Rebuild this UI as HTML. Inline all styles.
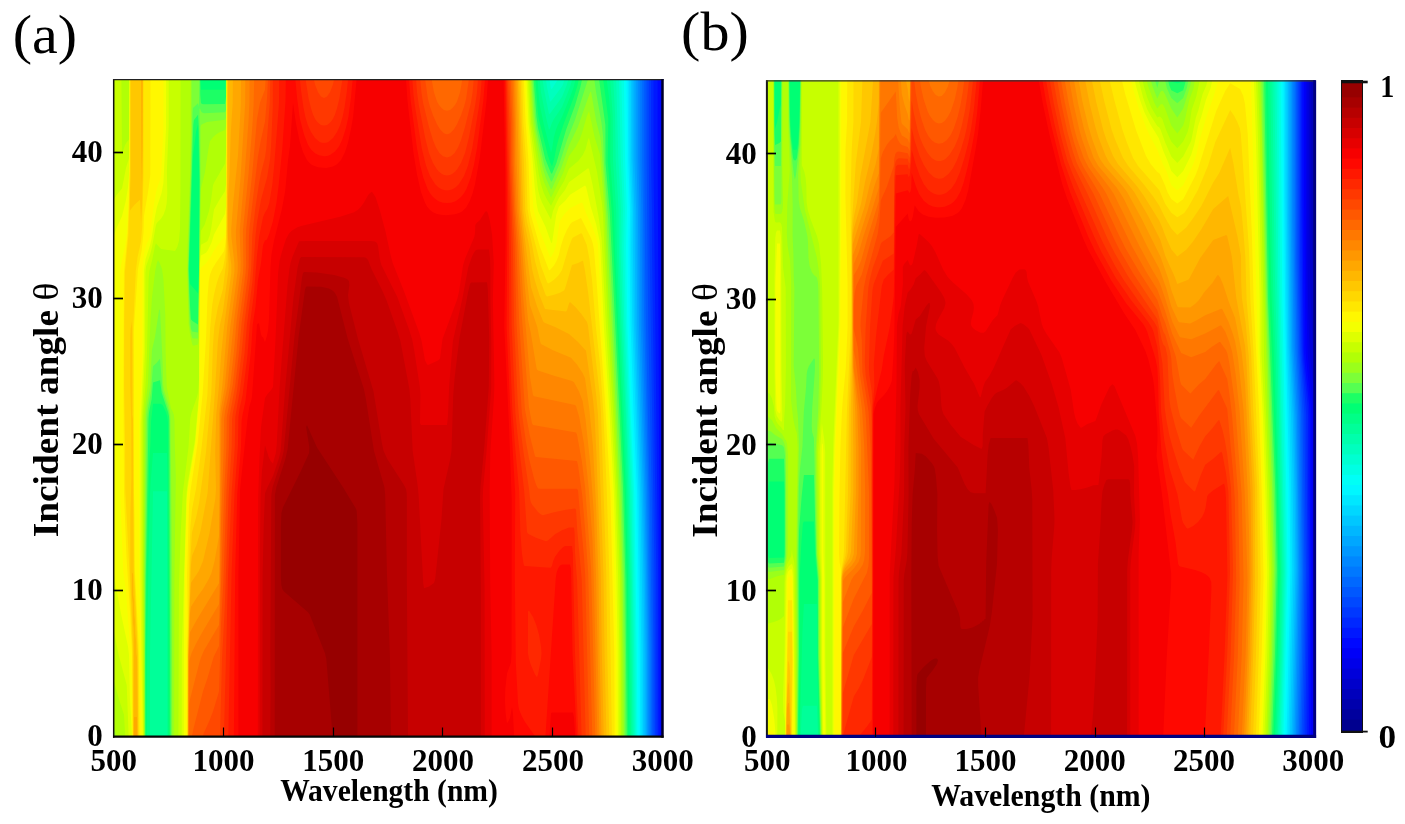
<!DOCTYPE html>
<html><head><meta charset="utf-8"><title>Figure</title>
<style>html,body{margin:0;padding:0;background:#fff}svg{display:block}text{fill:#000}</style>
</head><body>
<svg width="1405" height="824" viewBox="0 0 1405 824">
<rect width="1405" height="824" fill="#fff"/>
<text transform="translate(12.8,53) scale(1.055,1)" font-size="55" font-family="'Liberation Serif', serif">(a)</text>
<text transform="translate(681.1,50) scale(1.055,1)" font-size="55" font-family="'Liberation Serif', serif">(b)</text>
<g fill-rule="evenodd">
<rect x="113" y="79" width="550" height="658" fill="#0008ff"/>
<path fill="#0018ff" d="M113,79 657.6,79 657.7,161 659.7,573 659.7,737 113,737Z"/>
<path fill="#0028ff" d="M113,79 653.5,79 653.5,159 658.1,573 658.2,737 113,737Z"/>
<path fill="#0038ff" d="M113,79 651,79 651,159 651.9,209 652,251 656.3,573 656.6,737 113,737Z"/>
<path fill="#0048ff" d="M113,79 648.8,79 648.8,159 649.7,253 654.5,573 655,737 113,737Z"/>
<path fill="#0058ff" d="M113,79 646.6,79 646.6,159 648.3,329 651.8,499 653.4,651 653.5,737 113,737Z"/>
<path fill="#0068ff" d="M113,79 644.3,79 644.3,159 645,250.8 646,329 650.2,513 651.9,651 651.9,737 113,737Z"/>
<path fill="#0078ff" d="M113,79 642.2,79 642.2,161 643.1,211 644.1,317 648.6,497 650.7,653 650.7,737 113,737Z"/>
<path fill="#0087ff" d="M113,79 640.2,79 640.3,159 641.4,211 642.4,323 647.1,489 649.5,655 649.5,737 113,737Z"/>
<path fill="#0097ff" d="M113,79 638.3,79 638.3,159 639.7,211 640.7,323 645.7,489 647.3,575 648.3,655 648.3,737 113,737Z"/>
<path fill="#00a7ff" d="M113,79 636.3,79 636.4,159 637.9,211 639,325 644.3,489 646.1,575 647.1,655 647.1,737 113,737Z"/>
<path fill="#00b7ff" d="M113,79 634.4,79 634.4,159 636.2,211 637.3,325 642.9,489 644.8,575 645.8,655 645.9,737 113,737Z"/>
<path fill="#00c7ff" d="M113,79 632.5,79 632.6,159 634.5,211 635.5,325 641.5,491 643.5,577 644.5,655 644.6,737 113,737Z"/>
<path fill="#00d7ff" d="M113,79 630.9,79 631.2,159 633,211 632.9,247 633.9,325 640.1,491 641.8,573 643,655 643.1,737 113,737Z"/>
<path fill="#00e7ff" d="M113,79 629.2,79 629.7,161 631.6,211 631.2,247 632.2,323 638.7,495 641.4,651 641.7,737 113,737Z"/>
<path fill="#00f7ff" d="M113,79 627.6,79 628.3,161 630.1,211 629.6,247 630.5,323 633.4,407 637.2,495 639.8,653 640.2,737 113,737Z"/>
<path fill="#00fff6" d="M113,79 625.9,79 626.7,123 626.8,161 628.6,209 627.9,247 628.8,323 631.8,407 635.7,493 638.3,655 638.7,737 113,737Z"/>
<path fill="#00ffe3" d="M113,79 623.9,79 625.1,161 626.9,209 626.1,247 627.3,325 630.5,411 634.3,495 636.8,655 637.4,737 113,737Z"/>
<path fill="#00ffd1" d="M113,79 621.4,79 622.9,159 624.9,209 624.2,247 625.9,325 632.9,495 635.5,653 636.2,737 113,737Z"/>
<path fill="#00ffbe" d="M113,79 549.3,79 551,88.9 552,88.8 558.1,79 619,79 620.7,157 622.9,209 622.3,247 624.3,321 631.5,495 634.1,649 635,737 113,737Z"/>
<path fill="#00ffac" d="M113,79 545.9,79 547,87 550,101.4 551,101.3 562,86.4 563,84.6 564.6,79 616.2,79 618.4,161 620.9,209 620.4,247 622.7,317 630,495 631.9,579 633.8,737 113,737Z"/>
<path fill="#00ff99" d="M113,79 542.4,79 544.3,91 549,113.9 550,113.7 562,97 566.8,85 568.5,79 613.2,79 615,113.4 615.7,161 618.5,209 618.9,257 621.5,327 625.6,413 628.6,493 630.6,577 632.5,737 113,737Z"/>
<path fill="#00ff87" d="M113,79 539.7,79 541.1,93 545.9,117 549,129.8 550,128.6 551.9,123 554,119 562,107.1 570,87 572.4,79 610.1,79 612.7,115 613,161 616.2,211 616.9,253 627.2,491 629.3,577 631.1,737 167.4,737 167,491.3 153,491.3 150,655 149.9,737 113,737Z"/>
<path fill="#00ff74" d="M113,79 537.5,79 539,99.5 540,106.3 543.9,125 551,152.6 552,149.4 553.9,137 556,129.5 557.8,125 562,117.1 570,97.3 573.7,87 575.7,79 606.6,79 609,97.5 610.5,117 610.3,161 613.9,213 615.1,253 625.9,491 628,579 629.6,737 168.4,737 167.8,495 167,453 153,453 150.6,483 149.9,497 148.4,567 147.2,647 147,737 113,737Z"/>
<path fill="#1cff65" d="M113,79 200.6,79 201,89.8 225,89.8 225.5,79 535.3,79 537.9,113 538.8,119 547.8,155 550.4,163 552,166.2 554.2,159 556.5,147 558.6,139 564,123 573.9,97 577.6,85 578.8,79 603.1,79 608.3,119 607.7,161 611.7,211 624.5,489 626.7,579 628.2,737 169.5,737 169.4,655 168,423 167.4,417 166,412.3 163,405.8 162,404.5 160,403.7 153,403.7 151.1,421 150.4,445 149,465.4 146.6,575 145.7,655 145.7,737 113,737ZM198,124.8 196.2,131 193,155.5 189.1,269 190,283.9 198,293.2 198.3,279 199,271 199.3,181Z"/>
<path fill="#55ff52" d="M113,79 200,79 200.3,95 201,102.9 202,103.9 204,104.2 225,104 226,97.1 226.1,79 533.6,79 536.5,117 538,127.7 545.3,159 551,173.2 552,173.8 556.4,163 566,130.1 575,105.6 580.4,87 582.1,79 599,79 605.4,125 605.5,163 609.8,213 623,487 625.4,579 626.8,737 170.5,737 169.2,421 169,416.6 168,412.1 161.7,393 160,380.2 153,382.6 151.7,399 149,412.4 148.5,419 145.8,577 145.2,655 145.3,737 113,737ZM198,114.7 194,119.9 193.3,125 188.6,269 190,305.3 191,319.2 192.4,321 198,324.6 199.1,271 199.7,179 198.8,127Z"/>
<path fill="#7cff38" d="M113,79 199.3,79 199,106.7 198,103.3 193,108 192.6,113 191.2,175 188.2,269 189.8,315 191,328.6 192,331.4 198,332.4 199.2,277 200.2,181 199.5,109 200,108.2 201,111.2 202,112.4 204,113.3 225,112.3 226,109.8 226.2,79 532.5,79 535,117 536.6,129 544,163.7 546,170 551,181.4 552,181.2 559,165 567,140 575.3,119 588.1,79 594.3,79 595.9,91 601.5,123 603,136.1 604.1,165 608.2,219 621.4,485 624.1,579 625,655 625.3,737 171.4,737 171.4,651 169.8,419 169,410.9 162.6,391 160,358.8 156.5,363 153,366.2 150.9,393 148,409.1 147.1,419 145.1,577 144.9,737 113,737Z"/>
<path fill="#9aff1b" d="M113,79 191.5,79 191.6,135 187.8,271 189.4,323 191,333.6 192,337.4 193,338.5 198,338.4 198.4,331 200.6,185 200.5,127 201,125.2 202,124.3 207,121.9 225,119.8 226,117.4 226.3,79 531.3,79 533.6,117 535.4,131 543,168.9 546,178.3 551,189.6 552,188.6 561,168.6 569,145.4 577.8,127 590,92.5 591,91.5 596.2,121 600,135.9 601,141.7 606.4,217 620.3,497 622.7,579 623.6,655 623.9,737 172.3,737 172.1,575 170.5,419 170.2,413 169,405.8 164,389.8 163.2,385 162.5,361 160,309.4 159,310.3 155,337 152,350 150,388.1 146.7,407 145.8,417 144.4,575 144.5,737 113,737Z"/>
<path fill="#b1ff06" d="M113,79 190.6,79 190.7,127 190.1,175 187.5,249 187.3,275 188.7,325 190.5,337 192,343.4 193,345.7 198,344.5 198.6,339 201,188.3 204.8,173 209,145.2 210,141.2 213,137.2 215.3,135 219,132.5 225,130 226,125.8 226.4,79 530.2,79 532.7,123 539.3,163 541.4,173 544,182.2 551,197.7 563,173.3 569,155.9 575.6,147 579.8,139 582,133 586.6,117 589,111.1 594.6,137 600,154.6 604.6,213 609.4,319 614.6,411 618.8,499 621.4,581 622.3,655 622.4,737 174.2,737 174.4,577 175.8,477 174.7,441 174.5,421 173.9,415 172.5,411 171,408.6 166.7,387 165.6,351 165.3,315 163.4,279 162,269 159.7,263 158,260.3 157,262.4 155.2,271 152,297.4 150.5,321 148,383 145.2,407 144.4,417 143.7,575 144.1,737 116.8,737 113,723.8Z"/>
<path fill="#c7ff00" d="M180.6,79 180.5,187 180,229 179,240.7 177.3,247 175,250.9 161,248.9 156,243.4 155,246 152.4,259 149.4,271 148.6,279 147,353 145.5,385 143.5,409 143,421 143,571 143.8,737 125.2,737 124,714.8 118.3,697 113,678.1 113,79 121.4,79 122,154.4 125,145.1 127,141.7 129,139.5 129.2,79ZM226.5,79 529.1,79 531.2,123 538.9,175 541,184.6 543.8,193 546.7,199 551,205.7 559,189.6 564.1,181 569,168.8 578.2,161 582.8,155 585.6,149 588,139.8 589,137.8 597,171.7 601.9,203 603,215.1 607.6,319 613,410.4 616.7,485 620,578.1 620.9,653 621,737 178.4,737 178.9,587 180.6,535 182.8,493 188.5,447 190.2,419 191.4,413 196.9,397 198,392.4 199,379.5 199.7,267 201,230.8 204.5,225 209,211 211,200.4 213,185.2 214,182.7 225,163.7 226,151.7Z"/>
<path fill="#deff00" d="M168.7,79 168.7,125 166.9,171 167.3,193 166.7,203 165.6,209 163.4,215 160.8,219 157,222.8 156,224.8 152,247.2 150,255.1 146,266.5 145.4,273 145.1,351 141.7,423 141.8,575 143.4,737 128.7,737 126.7,685 118.7,655 113,626.8 113,200.7 117,194.5 122,188.6 126,167.9 129,158.3 129.4,79ZM226.7,79 527.8,79 529.9,123 538,189.5 539.9,197 542,202.5 551,219.8 553,211 555.5,205 559,197.8 565,190.1 569,182.2 588,168.2 589,168.9 592.6,185 598.6,217 601.6,239 606,327 611.4,415 615.4,491 618.1,575 619.4,655 619.4,737 181.7,737 181.8,653 186.4,495 187.7,483 195,439.4 199,393 200,257 201,244.7 207,241.5 208,240.1 209.8,235 211.1,229 214,209.4 219,200.4 225,191.2 226,183.9Z"/>
<path fill="#f4ff00" d="M166.1,79 166,129 163.4,183 161.6,193 156.9,207 154.9,217 151.5,239 150,245.5 145.6,259 143.9,271 143.7,351 140.5,425 140.5,579 141.4,659 142.8,737 132,737 129.9,697 129,655 128,646.4 121.3,615 115.6,585 114.1,575 113,563.2 113,239 116.1,229 122,216.2 125.8,201 128,187.3 129,175.1 129.6,79ZM226.8,79 526.5,79 528.5,123 532.5,159 534.7,187 536.5,203 538,211.1 545.6,227 551,242.2 552,243.3 556.2,215 559,206.5 565,201 570,194.8 585,185.5 586.1,187 590.8,207 596,223.7 599.6,241 600.5,251 603.9,327 609.4,411 614,495 616.3,575 617.7,649 617.9,737 183.8,737 183.8,657 184.5,573 186.7,499 187.8,487 195.2,443 199.3,395 200,263.2 201,255.5 206,252.7 208,250.1 211.4,243 214,234.5 225,214.1 226,206.8Z"/>
<path fill="#fff700" d="M163.5,79 163.4,129 161.2,175 160,180.1 157,188.6 155.5,195 153.3,209 150.3,235 149,239.6 147,243.2 145,249.1 143.5,257 142.5,267 142.2,353 141,391 139.5,409 139.2,421 139.3,577 141.3,737 132.3,737 132,690.6 130.5,653 126,591.3 123.2,571 120.1,491 120.1,273 121.1,265 125,246.2 127,231.9 128,212.3 129.4,169 129.8,79ZM226.9,79 525.2,79 527,121 530.5,159 533.3,207 534.9,215 539,229 550,256.8 551,257.2 554,251.8 555.6,247 556.9,241 559,225 560,221 564,214.6 570,208.3 581,202.7 582,202.6 583,203.9 586,213 592,226 596,236.7 598,244.5 601.8,327 607.6,411 612.3,493 616.2,651 616.3,737 185.8,737 185.8,653 184.9,575 187,503.1 188,490.4 195.6,445 199.6,399 200,271.8 201,267.7 206,263.3 211,256.2 214,250.4 224,236.8 225,234.8 226,228.1Z"/>
<path fill="#ffe700" d="M150.5,79 150.3,175 148.2,191 144,216.1 143.5,233 141.6,251 138,269.1 134,327 133.9,489 134.6,517 134.9,571 138.7,645 139.7,737 132.6,737 132,653.4 130,611.9 126.5,557 124,493 123.5,385 123.9,273 127.7,233 129.2,193 129.8,165 130,79ZM227.1,79 523.8,79 525.5,121 528.5,161 530,210.4 531,215.4 540,246.9 549,270.2 550,270.1 554,265.4 556.5,261 558.8,255 561,245.6 563.8,237 567,229.7 570,224.4 572,222.3 581,218 591,237.9 592.7,243 593.9,249 596.3,277 605,401.2 610.4,493 614.3,655 614.6,737 187.1,737 187.2,647 187.7,621 187.1,575 189,505 190.4,491 197.7,443 202.7,393 206,338.4 207.5,297 208.8,281 209.9,275 212.2,269 215.8,263 224,251.3 225,246.5 226,237.6Z"/>
<path fill="#ffd700" d="M130.3,79 143.6,79 143.5,173 142.2,227 141,241.4 137.6,257 135.8,271 133,331 133.5,493 134.2,569 138.2,655 138.7,737 133,737 132.5,651 129,562.5 125.2,489 125.1,445 124.1,387 124.2,323 125,271 128.4,235 130.1,167ZM227.3,79 522.2,79 523.4,123 526.2,163 527.5,209 530,223.5 541,266.1 547,282 548,283.4 550,282.5 554,279.8 558.8,275 562,269.9 568.8,247 572,238.8 573,237.6 581,233.3 582,233.7 586.8,245 589.4,259 592,279.8 595.9,327 600,364.1 603.5,415 606.8,491 609.3,573 611.9,737 187.4,737 187.6,655 189.6,547 190.4,527 192,509.5 196,489 201.4,449 207.4,395 210.1,329 212.2,305 213.9,295 216.8,283 219.5,275 223,268 225,257.2 225.8,249 226.6,225Z"/>
<path fill="#ffc700" d="M130.7,79 143,79 142.7,177 142,206.6 141,223.4 140,199.8 134.3,205 130,210.6 130,193.3 130.7,177ZM227.6,79 520.7,79 521.8,123 523.9,163 525.3,211 526.9,221 531.7,243 535,261 539.8,279 545.7,295 547,296.4 554,294.8 560,292.7 564,290.6 565,288.7 572,265.1 578,263 582,260.9 583,260.8 585,271 588.2,293 600,396.7 600.9,411 606.3,575 607.3,655 609.3,737 187.8,737 188.1,649 190.3,561 191.9,533 196.2,517 199.1,503 205.9,453 211.3,393 213,345 214.3,327 217.9,307 223,288.9 226.4,261 226.8,247ZM132,321.2 132.3,415 133,419 133.6,571 137.6,655 138.2,737 133.3,737 133.3,653 130.3,573 130.4,515 131.4,477 131.2,421 130.3,387 130.3,337 130.6,329Z"/>
<path fill="#ffb700" d="M141.1,79 142.7,79 142.6,143 142,186.4 141.3,159ZM227.8,79 519.1,79 523.3,211 525,225 529.3,247 532,268.9 535,281 539.4,295 545,309 566,311.5 567,310.2 569,303.4 570,302 575.4,307 581,313.6 587,322 588,325.7 596.4,397 598,415 603.5,575 604.6,655 606.5,737 188,737 188.2,653 191,564.5 192,556.1 196.5,545 200.5,531 207.6,493 215,391 217.9,341 219.9,325 223,311.1 228.4,271 228.6,265 227.3,231ZM132,573.3 133,573.3 133.2,595 134,600 134.2,615 135,620.1 135.1,633 136,640.2 136.2,653 137,657.4 137.7,737 133.6,737 133.9,635 133.6,627 133,624 132.8,603 132,597.4Z"/>
<path fill="#ffa700" d="M141.6,79 142.3,79 142,163.1ZM232.9,79 517.8,79 521.6,209 523.4,227 531,287.2 537,306.2 543,321.1 544,322.6 555.1,327 569,334 578,341.9 586,350.8 593,399.3 594.5,415 596.4,453 600.7,571 601.9,655 603.8,737 188.2,737 188.5,653 190,602.1 191,582.7 198.9,571 203,561.1 209.5,533 215.3,499 216,489 215.2,453 216.2,415 218.7,389 221.3,353 224,327 231.3,273 231.3,265 228,239 228,197.5 229.5,175 230.9,131 232.7,103ZM134,717 137,717 137.1,737 133.9,737Z"/>
<path fill="#ff9700" d="M241,79 516.4,79 520,209 523.7,245 526,272.6 529.9,305 537.3,327 540,341.1 541,344.1 553,350.3 571,357.7 577,364.6 582.6,373 585,378.3 589.3,409 593,446.7 596.2,509 598.4,575 599.6,655 601.5,737 188.4,737 188.6,657 190,613.1 191,606.7 197,597.3 203,589.1 208.8,579 211.5,573 214.6,561 219,536.1 219.4,491 219.2,413 222.4,385 227.2,327 234.5,271 234.4,263 231.4,237 231.2,229 233.2,203 238,155 240.8,105Z"/>
<path fill="#ff8700" d="M245.3,79 515.1,79 516.6,161 518.7,213 521.7,243 524.9,287 528,319.6 530.8,333 536.3,367 537,369.6 538,370.5 554,375.8 572,380.9 574,382.3 579,391.4 582.6,401 585.5,419 590.4,465 593.8,513 596,575 599.4,737 188.5,737 188.8,657 190,632.3 197,619.6 219,583.2 220,497 220.3,415 221,407.9 224.8,387 230.3,327 237.7,271 237.8,263 236,239 235.9,231 240.6,177 245.2,103Z"/>
<path fill="#ff7800" d="M249.6,79 513.7,79 514.8,121 515,163 516.8,209 519.9,243 523,295 530,377.3 533,395.1 534,396.3 575,405 576,406.1 579.2,417 584,443.8 588.8,489 592.5,541 593.7,577 597.4,737 188.7,737 189,661.8 191.6,653 196.4,643 203,631 219,604.2 219.9,571 221.5,419 222.5,411 227.3,387 234.2,319 240.5,271 240.7,263 239.7,231 244.7,173 248.4,123 249.4,103Z"/>
<path fill="#ff6800" d="M254.2,79 512.3,79 513.6,123 513.7,163 515.3,209 518.2,245 521.7,315 528.9,407 532,423.3 533,425.1 576,432.4 577,434.4 581.8,461 585.1,487 591,566.9 595.3,737 188.9,737 189,703.2 199.3,663 201.2,657 203.7,651 219,625.1 220.4,581 221,523.1 223.8,447 224.1,419 225.1,411 228.6,395 230.2,385 234,351 236.6,321 243,273 243.4,265 242.9,231 248.6,173 252.3,127 253.6,105Z"/>
<path fill="#ff5800" d="M265.6,79 431.6,79 434,92.5 437,101.4 439,105 442,108.5 444,109.9 447,110.7 450,109.9 452,108.5 455,105 457,101.4 460,92.5 462.4,79 510.7,79 512.3,123 512.4,163 514,207 516.4,245 519.1,321 524.9,409 529.7,435 535,456.3 536,457.1 577,460.9 578,465 582.2,495 585.1,529 588.2,573 592.3,737 191.8,737 193.4,729 203,691.3 207.2,679 213.6,657 219,646.1 224.1,495 226.4,447 226.8,417 232.7,385 236.6,351 239,323 245.6,273 246.1,265 245.8,239 246.2,229 252.3,173 257,119 260,102.5 265,89.5Z"/>
<path fill="#ff4800" d="M268,79 425.1,79 427.9,99 430,106.8 433,115.2 437,124.3 440,129.3 443,132.6 445,133.8 447,134.2 449,133.8 451,132.6 454,129.3 457,124.3 461,115.2 464,106.8 466.1,99 468.9,79 509.2,79 510.9,123 511.1,165 512.8,211 514.6,245 516.5,323 521.8,413 526,442.2 529.1,459 534,478.3 536.2,485 538,488.5 540,488.8 577,488.8 578,490.6 584,557 585.2,575 589.2,737 202.7,737 203.8,733 209.3,721 213,711.6 219,691.5 221,625.3 223.4,581 226.5,491 228.9,447 229.4,417 235,387 239.2,351 241.6,323 247.8,277 248.7,267 248.9,237 249.6,227 257.9,157 260.7,141 265,121.6 267.1,97Z"/>
<path fill="#ff3800" d="M270.2,79 313.8,79 315.2,85 318,92.2 321,96.5 324,97.9 327,96.5 330,92.2 332.8,85 334.2,79 420.2,79 421.5,93 423.1,103 429,127 433,140.2 436,147.5 439.4,153 443,156.3 447,157.4 451,156.3 454.6,153 458,147.5 461,140.2 465,127 470.9,103 472.5,93 473.8,79 507.7,79 509.5,125 510,172.2 512.8,245 514.1,325 517.8,403 519.2,419 523.6,453 529,489 530,498.5 531,502.5 532.4,505 538,511.9 541,514.5 543,515.2 554,512.2 566,509.8 575,508.6 576,509.4 577.3,531 581.7,579 585.7,737 220,737 222,659 224.7,609 228.6,497 231.7,447 232.1,419 232.8,413 235.7,399 237.5,387 241.6,353 244.1,325 250,280.7 251.2,267 252.3,235 255.2,209 259,183.6 261,172.9 265,157.5 266.2,149 269.8,103Z"/>
<path fill="#ff2800" d="M272.9,79 305.5,79 308.7,99 311,108.3 313.2,115 315.1,119 318,122.8 321,124.9 324,125.6 327,124.9 330,122.8 332.9,119 334.8,115 337,108.3 339.3,99 342.5,79 416,79 417.1,93 418.8,105 425,136.9 429,153 433,162.9 437,169.5 439,171.8 442,174.1 444.1,175 447,175.5 449.9,175 452,174.1 455,171.8 457,169.5 461,162.9 465,153 469,136.9 475.2,105 476.9,93 478,79 506.7,79 510.9,245 511.6,325 515.4,413 517.4,433 524.2,491 527,532.1 528,533.8 536,537.7 546,541.2 548,540.5 555,534.3 562,530.3 569,527.4 574,527.5 574.6,533 575,553 577.1,581 581.6,737 223.9,737 228,576.8 231.7,491 234.8,447 235.3,417 240.1,389 244.6,353 246.9,325 252.5,281 255.4,237 257,222.5 261,199.7 267.2,177 270.1,159 271,147 272.8,107Z"/>
<path fill="#ff1800" d="M279.2,79 299.9,79 301.1,91 303.4,107 305.4,117 307.8,125 311,132 315,138.1 319,141.5 321,142.4 324,142.9 327,142.4 329,141.5 333,138.1 337,132 340.2,125 342.6,117 344.6,107 346.9,91 348.1,79 412.3,79 413.5,95 415.1,107 421.9,149 426,165.4 430,175.9 435,184 438,187 441,188.9 444,190 447,190.4 450,190 453,188.9 456,187 459,184 464,175.9 468,165.4 472.1,149 478.9,107 480.5,95 481.7,79 505.9,79 509,243 509.2,331 512.4,411 515,445.7 519.2,491 520.3,531 521.9,553 523.4,563 524,565.4 525,566 550,567.7 551,567.5 552,565.7 553.2,561 555,556.7 560,549.9 563,547.2 565,546.1 572,545.9 572.8,553 575,653 578.4,737 228.3,737 231.6,573 234.5,493 238,445 238.4,417 239.5,409 242.6,395 247.5,355 249.8,325 254,293 257,255.4 259.1,237 263,217.2 265,212.5 267.3,209 269.3,203 272.3,185 274.4,163 279,103ZM529,610.6 528,611.6 527.9,653 529,659 530.9,665 535,674.5 537,677.2 538,674.6 541,659 541.5,653 541.1,647 539.1,635 536.3,625 533,617Z"/>
<path fill="#ff0800" d="M285.8,79 295.3,79 297.2,99 299.9,119 304,134.6 308,144.7 311,149.4 315,153.2 319,155.3 324,156.2 327,155.9 330,154.9 335,151.6 339,146.5 342.5,139 346,127.8 348.4,117 351,97.5 352.7,79 409,79 410.7,101 416.8,147 420,164.6 423.1,177 427.6,189 430,193.2 433,197 436,199.6 439,201.4 443,202.7 447,203.1 451,202.7 455,201.4 458,199.6 461,197 464,193.2 466.4,189 470.9,177 474,164.6 477.2,147 483.3,101 485,79 504.9,79 506.4,161 507.2,241 506.6,327 510.4,411 515.2,493 514.8,577 515.8,663 518,702.9 519,709.4 522,716.4 525,722 535.6,737 233.9,737 235.2,571 237.3,493 241,447 241.6,421 242.5,415 245.5,401 251,351 252.7,325 255.5,307 258,279.9 261,263.3 263,245.2 265,240.2 266,240.3 267,239.3 269,234.6 273,221.1 276.4,203 278.9,183 282.3,149 285.5,101ZM562,564.5 570,564.5 571,568.6 572.5,653 576.8,737 545.4,737 555.7,579 556.5,573 558,568.5 560,565.5Z"/>
<path fill="#f70000" d="M356.6,79 406,79 407.5,101 413.5,153 417,174.6 421,192 425,202.8 427,206.4 430,210 433,212.2 437,213.9 441,214.8 446,215.2 455,214.3 459,213 462,211.4 466,207.8 470,200.6 472.7,193 475,184.2 479.9,157 486.5,101 488,79 503.6,79 505.3,171 505.5,243 504.3,327 509,425.4 511.7,499 511.6,653 511,662.4 507,673.5 505.3,689 505,701 505.6,713 507,723.3 508.6,721 510,717.8 512,706.9 513,713.4 514.1,737 238.4,737 238.4,577 240.1,489 247.5,419 249.3,407 251.6,399 252.1,395 257,324.6 258,323.5 259,323.2 261,334.4 262,336.7 263,337.1 265,342.2 267,335.5 268,330.2 269,319 270.5,267 271.4,255 273.9,241 281.9,209 285.2,191 288,160.3 290,145.7 293,102.8 295.9,123 299.6,141 303,151.9 307,160 309,162.5 312,165 318,167.3 326,167.9 333,166.5 337,164.3 341,160 345,151.9 347.9,143 351,129 353.1,117ZM551,713.3 552,712.4 573,712.4 574,717.6 575.2,737 549.4,737Z"/>
<path fill="#e70000" d="M372,191.8 375.5,197 380,210.7 385.4,231 390.6,255 392.7,263 404,291.2 419.3,333 421.6,341 425,360.3 427,364.3 428,365.1 437,361.1 439,359.8 440,358.4 442.5,339 457.3,299 459.1,291 463.1,265 465,258.8 474.3,237 475,233 475.3,225 476.6,223 480,220.1 485,212 486,211.3 487,211.6 488,213.4 490,221.4 492.1,235 493.8,263 492.9,299 494.4,385 494,397 490.3,453 489.7,491 490.2,581 491.6,655 491.6,737 257.8,737 258.1,499 259.4,459 261,427 265,398 267,394.8 271.9,389 273,386.9 275.4,341 278.1,273 279.5,261 282,251.4 286,239 289,233.6 292,230.5 298,227 302,225.7 340,216.7 354,212.3 358,209.7 360.8,207 364,202.6 368.2,195 370,193Z"/>
<path fill="#d70000" d="M299,241.3 307,240.9 371,240.9 375,241.4 377,243 378,245.8 379.8,259 381.4,265 397.3,297 408.9,329 412.1,339 414,349 419.9,387 420.4,395 420,423.3 421,425 447,425 447.9,417 449.2,385 452.9,341 462.3,299 468.3,267 472,256.5 474,252.6 476,250 478,249.4 489,249.4 490,258.2 490.4,269 490.4,297 491.3,343 491.2,389 486.6,451 483.1,489 482.8,499 484.6,589 484.8,737 259.7,737 259.8,555 260.6,495 262,470.6 265,445.3 268.7,457 270.6,461 273,463.4 275.8,453 276.7,445 279.6,387 287.5,285 289.4,269 290.5,263 292.4,257Z"/>
<path fill="#c70000" d="M301,257.1 364,257.3 366,257.8 368,260 371.5,269 382.5,291 386.8,301 397.4,331 400.4,341 409.4,389 410.3,399 412.7,451 417.6,485 418.6,495 423.2,583 424,588.3 429,586.4 434,583 435.2,579 441.5,519 443.5,489 450.2,459 451.5,451 453.2,395 454.7,377 459.3,339 467.9,293 470,284 471,282.4 487,282.3 487.8,289 489.2,337 488.8,387 484.3,447 480.5,487 480.1,497 480.9,589 480.9,737 262.4,737 262.6,575 263.7,525 265,493.2 267.6,487 273,475.9 279,458 280.6,451 285.1,389 293.5,297 297.7,267 299.8,259Z"/>
<path fill="#b70000" d="M304,272.1 317,272.5 334,274.9 344,277.7 347,279.1 348.9,281 349.4,285 348,295 348.9,303 358,339 373.4,391 381.9,443 383.6,451 387.3,459 404,485 406,489 406.7,493 406.9,501 406.9,585 408,737 270.2,737 270.6,689 270.3,649 271.3,495 272.6,487 281.8,459 283.7,451 294.6,335 302.1,277 303,272.9Z"/>
<path fill="#a70000" d="M307,286.4 321,286.7 328,288.2 331,289.5 333.1,291 335,293.1 337.1,297 347.8,339 363.9,389 365.9,399 374,451 384.4,487 385.2,495 387,574.8 389.9,655 391,737 274.7,737 274.9,495 276.4,487 285.4,459 287.6,449 298.6,337 305,289.6 306,286.8Z"/>
<path fill="#970000" d="M307,425.2 317,447.5 343,487.3 356,508.7 356.7,511 357.4,523 357.4,737 332.7,737 326.3,659 325,653.3 309.9,615 308,612.3 284,591.6 282.3,589 281.3,585 280.9,577 280.9,527 281.4,513 283,507.3 300.9,471 309.1,453 309.3,447 306.1,427Z"/>
<rect x="766" y="80" width="549" height="657" fill="#0000bc"/>
<path fill="#0000cb" d="M766,80 1311.2,80 1311.3,226 1313,277 1315,277 1315,737 766,737Z"/>
<path fill="#0000da" d="M766,80 1309.2,80 1309.3,222 1309.9,268 1310.7,300 1313,352.8 1315,352.8 1315,737 766,737Z"/>
<path fill="#0000e9" d="M766,80 1307.4,80 1307.4,254 1308,304.1 1309,336.5 1310.1,356 1313,383.6 1315,383.6 1315,737 766,737Z"/>
<path fill="#0000f8" d="M766,80 1305.7,80 1305.9,256 1306.6,314 1307.7,354 1312.4,404 1312.8,414 1312.8,737 766,737Z"/>
<path fill="#0008ff" d="M766,80 1304,80 1304,196 1305.5,346 1306.1,358 1310.7,404 1311.3,416 1311.7,576 1310.9,737 766,737Z"/>
<path fill="#0018ff" d="M766,80 1302.4,80 1302.4,194 1303.8,350 1305,365.5 1309.1,404 1309.7,416 1309.8,492 1310.5,576 1308.9,737 766,737Z"/>
<path fill="#0028ff" d="M766,80 1301.1,80 1301.1,196 1302.7,348 1303.4,362 1307.6,406 1308.1,418 1308.2,492 1309.1,576 1307.1,737 766,737Z"/>
<path fill="#0038ff" d="M766,80 1299.9,80 1300.1,254 1301.5,344 1302.1,360 1306.2,414 1307.6,570 1305.3,737 766,737Z"/>
<path fill="#0048ff" d="M766,80 1298.6,80 1298.9,260 1300.6,354 1304.4,414 1306,570 1305.1,654 1303.4,737 766,737Z"/>
<path fill="#0058ff" d="M766,80 1297.4,80 1297.5,258 1299.4,354 1302.6,414 1304.5,572 1303.5,654 1301.6,737 766,737Z"/>
<path fill="#0068ff" d="M766,80 1296.1,80 1296.2,258 1298,352 1301.1,414 1303.1,572 1302.1,654 1300.1,737 766,737Z"/>
<path fill="#0078ff" d="M766,80 1294.8,80 1295,260 1296.6,352 1299.7,414 1301.9,572 1300.7,654 1298.7,737 766,737Z"/>
<path fill="#0087ff" d="M766,80 1293.4,80 1293.5,226 1295,346 1298.3,414 1300.6,570 1299.3,652 1297.3,737 766,737Z"/>
<path fill="#0097ff" d="M766,80 1292.1,80 1292.1,222 1293.6,348 1296.9,414 1299.3,570 1295.9,737 766,737Z"/>
<path fill="#00a7ff" d="M766,80 1290.8,80 1290.8,222 1292.2,348 1295.6,416 1297.2,492 1298.1,570 1294.5,737 766,737Z"/>
<path fill="#00b7ff" d="M766,80 1289.3,80 1289.5,220 1291,348 1294.2,416 1295.9,492 1296.8,570 1293.1,737 766,737Z"/>
<path fill="#00c7ff" d="M766,80 1287.9,80 1288.2,216 1289.7,348 1292.8,418 1294.6,494 1295.5,570 1291.6,737 766,737Z"/>
<path fill="#00d7ff" d="M766,80 1286.5,80 1286.8,200 1288.4,346 1291,414 1292.6,478 1293.8,570 1289.9,737 766,737Z"/>
<path fill="#00e7ff" d="M766,80 1285.1,80 1285.4,196 1286.5,306 1287.3,356 1289.3,414 1291.1,488 1292.2,570 1288.3,737 766,737Z"/>
<path fill="#00f7ff" d="M766,80 1283.7,80 1284.1,196 1285.1,302 1286.1,358 1289.5,490 1290.5,570 1286.6,737 766,737Z"/>
<path fill="#00fff6" d="M766,80 1282.3,80 1283.7,300 1287.9,492 1288.8,570 1284.9,737 766,737Z"/>
<path fill="#00ffe3" d="M766,80 1280.6,80 1282.2,296 1286.3,492 1287.4,572 1283.4,737 766,737Z"/>
<path fill="#00ffd1" d="M766,80 1278.5,80 1279.2,196 1280.4,294 1284.9,492 1286.2,572 1282,737 766,737Z"/>
<path fill="#00ffbe" d="M766,80 1276.5,80 1278.2,266 1285,572 1283.1,652 1280.5,737 766,737Z"/>
<path fill="#00ffac" d="M766,80 1274.4,80 1276.4,262 1279,356 1283.8,572 1281.9,654 1279.1,737 766,737Z"/>
<path fill="#00ff99" d="M766,80 1272.4,80 1274.5,260 1275.5,302 1277.5,358 1282.5,572 1280.7,652 1277.7,737 766,737Z"/>
<path fill="#00ff87" d="M766,80 1270.3,80 1272.7,268 1273.5,302 1275.7,358 1281.1,572 1279.2,654 1276.3,737 818.1,737 816.9,705.7 802.9,705.7 801.9,709.5 800.6,737 766,737Z"/>
<path fill="#00ff74" d="M766,80 1268.1,80 1269.4,190 1271.4,294 1273.9,356 1277.9,486 1279.7,572 1277.8,654 1274.9,737 818.9,737 817.3,668 816.9,604 803.9,604 802.4,632 799.6,737 766,737Z"/>
<path fill="#1cff65" d="M766,80 774.7,80 775,128.4 777,122.6 779.4,110 781,104.3 781.1,80 789.6,80 790,114 791,132.7 793,149.5 794.9,149.9 796.9,149.5 797.9,143.3 799.1,124 800.1,80 1170.9,80 1171.3,81.5 1177.3,83.3 1183.2,81.5 1183.5,80 1266,80 1267.2,176 1269.5,296 1272,356 1276.5,486 1278.3,570 1276.4,654 1273.5,737 819.6,737 817.7,658 817.4,580 815.4,560 813.9,521.6 803.9,521.6 802.9,523.2 801.3,544 799.6,578 799.5,666 798.5,737 766,737ZM769,481.5 768,490 767.6,498 767.6,548 768.3,556 769,558 784,557.5 784.3,540 784,481.5Z"/>
<path fill="#55ff52" d="M766,80 774.2,80 774.3,122 775,145 779,143.2 781,141.4 781.4,80 789.1,80 789.7,120 790.7,138 793,157.8 793.9,160.3 795.9,160.3 796.9,158 798.7,144 799.7,122 800.4,80 1168,80 1169.3,85.2 1171.3,90.3 1177.3,93.2 1183.2,90.3 1186,80 1264.2,80 1268,298 1275.2,488 1276.8,570 1275,654 1272,737 820.3,737 818.2,656 818,580 815.9,554 813.9,475 803.9,475 801.7,496 799.1,530 798.7,554 798.9,654 797.7,737 766,737 766,558.9 769,563.6 784,562.8 784.9,554 784.9,490 784,458.8 769,458.7 767.4,466 766,475Z"/>
<path fill="#7cff38" d="M766,80 773.8,80 774,133.4 775,166 781,166 781.7,80 788.7,80 789.2,120 789.8,134 791.4,154 793.9,174.9 794.9,179.5 795.9,175.3 799.3,146 800.2,122 800.8,80 1154.9,80 1157.3,87.9 1159.2,80 1165,80 1166.8,88 1171.3,98 1177.3,103.2 1183.2,98 1186.8,88 1188.5,80 1262.7,80 1267,298 1273.7,490 1275.4,570 1273.5,654 1270.5,737 820.9,737 818.7,656 818.5,578 816.5,554 813.9,437.9 812.1,432 811.7,426 812.1,410 814.9,370 814.9,359.2 813.9,358.6 808.9,366 807.4,370 806.7,374 806,388 803.8,412 802.5,446 799.9,470 798.9,486.3 797.8,556 798.2,652 797.3,737 766,737 766,564.8 769,567.7 784,566.5 785.6,556 785.5,478 785,456 784.1,448 783,445.9 782,445.3 770,442.4 768,443.3 766,445.4Z"/>
<path fill="#9aff1b" d="M766,80 773.6,80 773.7,132 774.6,194 775,204.4 781,204.3 781.4,200 782,80 788.4,80 788.8,124 791.9,174 792.7,206 792.6,236 793.4,254 793.8,280 794.4,288 793.7,366 795.9,388 796.8,406 798,418 799,446 797.8,494 797,560 797.4,650 796.8,737 766,737 766,569.6 769,572.1 784,570.1 786.2,558 786.4,540 786,454 785.5,448 784,442.4 782,439 775,435.1 771,431.4 766,430ZM801.1,80 1150.7,80 1152.4,86 1157.3,98.6 1160.3,92 1161.3,90.9 1162.3,90.7 1163.3,91.3 1165.3,94.7 1171.3,108.4 1177.3,117.5 1183.2,108.4 1190.2,86 1191.5,80 1261.2,80 1266,300 1269.3,412 1272.2,492 1273.9,570 1272,654 1269.1,737 821.3,737 819.3,654 819.2,580 817.1,554 815.6,452 818.2,410 819.2,374 818.4,290 817.9,281.9 816.9,277.6 813.9,274.9 811.9,272.3 809.6,266 808.5,258 808,242 807.4,236 803.9,220.5 799.9,208 798.7,200 798.2,174 800.2,144Z"/>
<path fill="#b1ff06" d="M766,80 773.4,80 773.8,200 775,213.2 776,214.1 781,214 782,212 782.8,208 783.1,200 782.3,166 782.6,80 788.2,80 788.3,128 789.8,170 787.3,204 786.8,234 787.6,246 790,260 791.1,280 791,399.7 793.1,418 794.9,426.8 796.9,433.6 797.7,448 796,570 796.5,652 796.3,737 766,737 766,575.8 769,579.6 772.2,578 778,576.1 784,574.7 787.7,554 788.1,538 788.1,456 787.1,444 786,440.5 785,439.6 782,433.9 776,428 772,420.2 766,415ZM801.4,80 1146.6,80 1148.1,86 1154,102 1157.3,108.6 1160.3,104.6 1162.3,104.1 1163.3,104.9 1164.9,108 1171.3,125.5 1177.3,133.4 1183.2,125.5 1185.2,118.5 1189.2,100 1193.6,88 1194.8,80 1259.7,80 1261.5,134 1264.7,294 1267.6,408 1270.6,492 1272.4,572 1270.6,654 1267.6,737 821.7,737 820,656 819.9,580 819.6,572 817.7,554 817.5,492 816.8,452 817.2,442 819.8,410 821,374 820.1,286 819,272 816.9,257.7 804.9,210 800.9,182 800.3,168 800.9,143Z"/>
<path fill="#c7ff00" d="M766,80 773.1,80 773.6,212 775,221.6 776,222.4 780,222.2 781.2,224 782,227.2 783,266.8 785.7,288 785.9,366 785.2,404 784.2,418 784,429.9 783,430.3 781,427.3 777.9,424 776,420.7 774.6,416 774,407 772,398.5 769.7,394 766,390.7ZM801.7,80 1142.5,80 1143.8,86 1147.3,97.7 1151.3,107.5 1157.3,117.4 1159.3,116.4 1160.3,116.7 1162.3,119 1166.1,130 1171.3,141.6 1177.3,148.3 1183.2,141.6 1187.6,132 1189.2,125.7 1191.6,110 1196.2,96.8 1199.8,80 1257.9,80 1259.8,132 1263.6,312 1264,358 1269,492 1270.9,572 1269.1,653.6 1266.1,737 822.1,737 820.7,656 820.6,578 818.9,552 818.8,492 818.1,452 821.3,410 822.7,382 823,364 822.2,292 821.1,264 819,244 817,236 810.9,220.2 807.8,210 806.6,202 806.3,186 805.6,178 804.4,172 801.9,165.2ZM792,548.5 792.4,554 794.2,562 794.7,568 795.6,650 795.8,737 766,737 766,615.6 767,622.2 768,623.4 773.9,622 778,620.4 781,618.7 784,616.1 784.3,584 784.8,576 787,564.6 791.2,556Z"/>
<path fill="#deff00" d="M838.4,80 1138.6,80 1143.2,98 1147.3,109.5 1151.3,116.7 1157.3,126.1 1159.3,127.5 1160.3,129.1 1165.3,142.8 1171.3,156.4 1177.3,163 1183.2,156.4 1191.2,140.7 1195.7,118 1198.4,110 1202.6,94 1206.2,85.8 1207.8,80 1256,80 1258,138 1261.6,296 1261.4,354 1264.7,420 1267.2,492 1269.1,572 1267.3,654 1264.3,737 832.3,737 832.4,482 833.5,438 838.5,322ZM777,230.5 780,230.5 780.9,236 781.2,242 781.5,370 782.3,416 782,421.5 781,421.5 779,419.6 776.7,416 775.4,410 775,402 774.5,368 774.5,278 775.3,238 776,232.6ZM821.9,423.3 824.3,440 825.2,452 825.4,654 826.4,737 822.5,737 821.4,662 821.3,578 820.2,552 819.8,452ZM792,563.4 793.2,568 793.7,576 795.4,737 785,737 785,721 783.4,712 783,698 784.5,654 785.4,582 785.8,576 787,569.7 789,565.9ZM766,667 767,667.1 768,667.9 771.6,674 774,680.5 775.6,688 776.8,698 777.4,708 777.3,737 766,737Z"/>
<path fill="#f4ff00" d="M839.8,80 1134.7,80 1136,86 1140,100 1144.3,112 1150.3,124.3 1158.7,138 1163.3,151.1 1168,162 1171.3,171 1177.3,177.3 1183.2,171 1191.2,154.8 1194.2,144.9 1198.2,125.8 1201.2,117 1205.9,100 1210.6,88 1212.3,80 1253.9,80 1256,140 1259.7,300 1259.6,352 1263,418 1265.4,492 1267.3,572 1265.4,654 1262.5,737 833.3,737 833.3,492 834.4,446 839.4,324 840,236ZM777,243.5 780,243.5 780.3,258 780.6,410 780,413.5 778,412.2 777,410.6 776.6,408 775.4,374 775.3,284ZM821.9,443.2 822.9,444.5 823.4,454 823.4,552 824.4,580 824.5,664 825.4,737 823.2,737 822.2,650 822.1,578 821.6,552 821.5,454ZM792,569.2 792.8,576 794.8,737 785.2,737 785.2,668 786.5,582 786.9,576 788,571.8 790,569.6ZM766,698.9 770,699.2 772,705.2 774.4,720 775.7,737 766,737Z"/>
<path fill="#fff700" d="M841.2,80 1130.9,80 1132.7,88 1138.1,106 1146.3,128.1 1151.3,138.7 1157.5,150 1162.8,164 1166.3,170.8 1171.3,185.2 1177.3,190.3 1183.2,185.2 1191.6,168 1194.1,162 1196.5,154 1199.2,141.3 1207.2,114.5 1213.8,96 1218.6,80 1251,80 1257.7,346 1261.2,416 1263.6,492 1265.5,570 1263.7,652 1260.7,737 834.3,737 834.4,492 835.5,446 840.3,328 840.4,284 841.2,236ZM792,576.3 793,620.4 793.5,678 793.3,737 785.4,737 787.5,584 788,577.7 789,576.7ZM766,731.2 772,731.2 773,731.7 774.1,737 766,737Z"/>
<path fill="#ffe700" d="M847.2,80 1121.8,80 1125.3,94.5 1136,130 1146,156 1150.7,164 1157.3,172 1159.3,173.2 1160.3,174.7 1165.3,185.9 1167.4,192 1171.3,199.1 1177.3,203.5 1183.2,199.3 1195.2,176 1198.3,168 1216.2,110.9 1225.2,91.1 1230.2,83.3 1240.1,88.9 1243.1,95.6 1245,104 1247.7,134 1252,238 1253.7,302 1259.1,411 1261.7,492 1263.5,578 1261.7,652 1258.7,737 840.9,737 840.9,569.2 839.5,562 839,554 839.4,498 840.4,450 841.8,414 842.9,398 845.8,368 847.6,326 847.6,286 845.4,196 845.5,150 847.1,120ZM788,600.3 792,600.3 792.8,662 791.9,737 785.6,737Z"/>
<path fill="#ffd700" d="M853.5,80 1109.6,80 1114.3,100 1122.5,130 1126.7,142 1133.1,158 1138.3,166.2 1159.3,190.3 1165.3,204 1171.3,212.8 1177.3,217.3 1184.2,212.9 1188.2,207.3 1197.9,190 1207.9,166 1215.2,142.2 1230.2,110.1 1234.1,115.7 1237.1,121.4 1239.8,128 1240.8,134 1249.1,251.1 1250.4,300 1253.4,350 1259.3,486 1260.7,578 1258.8,654 1255.9,737 841,737 841.2,576 841.5,570 843.4,558 844,550 846.8,414 850.7,328 851.2,274 850.5,202 851.6,152 853.4,122ZM788,631.7 792,631.7 792.3,660 791.5,737 785.7,737Z"/>
<path fill="#ffc700" d="M862.4,80 1099.7,80 1104.4,101.7 1111.7,130 1115.3,140 1123.1,158 1128.3,166 1143.5,184 1152.8,196 1159.3,205.8 1164.3,216.2 1171.3,228.5 1177.3,235 1186.2,227.6 1192.2,219.6 1201.2,206.3 1213.2,182.6 1219.2,173 1230.2,147.7 1233.5,164 1238.3,194 1241.1,207 1243.6,234 1245.4,258 1246.6,300 1251.1,352 1253.2,408 1257.2,488 1257.9,578 1256,654 1253.1,737 841.1,737 841.4,578 842.4,568 845.4,556 845.9,552 847.9,496 848.9,412 851.8,328.1 851.6,228 855.8,162.9 861,122ZM788,660.4 789,662.7 789.5,666 790.2,676 791.2,737 785.9,737Z"/>
<path fill="#ffb700" d="M873.1,80 1091.8,80 1096.2,102 1103.2,130 1106.5,140 1113.1,156 1117.9,164 1136.8,186 1143.3,195 1159.3,220.8 1162.5,228 1165.3,235.8 1171.3,249.3 1177.3,256.5 1186.2,249.8 1192.7,242 1201.2,229.5 1213.2,209 1228.2,196.1 1237.4,236 1241,256 1241.2,282 1241.9,298 1245.5,322 1248.7,356 1250.9,412 1254.9,488 1255,586 1253.4,648 1250.3,737 841.3,737 841.6,578 842.9,568.5 846.7,558 848,552 850.7,492 850.8,412 852,348 852.1,234 853.8,217.1 857,202 860.4,176 870.4,122ZM788,681.8 789,685.2 789.5,694 790.8,737 786.2,737 787,698.7Z"/>
<path fill="#ffa700" d="M878.9,80 1085.1,80 1089.7,104 1095.6,128 1098.7,138 1105.7,156 1109,162 1112,166 1128.3,184.6 1134.2,192 1148.2,216 1160.3,239.8 1165.3,256 1174.4,276 1177.3,284 1188.2,279.8 1189.2,278.7 1200.2,258.1 1213.2,240 1226.2,234.9 1227.2,235.9 1231.7,256 1236.3,298 1245.1,346 1246.6,366 1252.6,488 1253.2,578 1251.3,656 1248.2,737 841.4,737 841.9,578.2 842.9,570.8 844.9,565.7 849.5,558 851,552 853.3,492 853.3,446 852.4,368 852.3,252 852.7,236 853.8,228.5 861,204 865,182 870.8,157.6 875.1,134 876.9,122 878.8,102.4ZM788,703.1 789,703.2 790.5,737 786.5,737 787,708Z"/>
<path fill="#ff9700" d="M879.3,80 905.9,80 907.7,89.1 908.7,98.7 909.7,102.3 910,80 1078.6,80 1082.4,101.5 1088.4,126.4 1092.4,139.8 1098.4,155.8 1100.6,160 1104.8,166 1122.5,186 1127.1,192 1141.3,218 1160.3,256.3 1168.3,278.8 1171.3,289.9 1177.3,306.3 1178.2,307.2 1190.2,307.5 1195,304 1199,300 1204.2,292.3 1212.2,283.3 1217.2,275.4 1218.2,274.9 1220.2,277.7 1223.2,284.8 1228.8,302 1235.1,318.1 1241.6,352 1245.1,384.3 1250.5,492 1251.5,570 1249.5,654 1246.1,737 841.5,737 842.1,580 842.9,573.2 843.9,570.6 845.9,567.3 849.8,563 851.8,560.1 853.8,554 855.9,494 855.9,450 855.3,414 852.8,366 852.5,260 852.8,243.9 864.8,206 869.4,186 875.7,164 878.8,148.5ZM787,724.4 789,724.4 790,731.7 790.1,737 786.8,737Z"/>
<path fill="#ff8700" d="M879.7,80 900.8,80 901.8,94 904.7,105.6 907.7,114 908.7,119.5 909.7,120.8 910.2,80 1073.9,80 1078.2,104 1083.8,128 1087.3,140 1093.7,158 1098.4,165.9 1117,188 1123.4,198 1147,246 1159.3,268.7 1166.2,288 1171.3,306.6 1178.2,321.2 1179.2,322.3 1190.2,323.5 1196.2,320.6 1205.2,315.2 1221.2,308.7 1222.2,309.1 1228.6,322 1233.1,334.5 1235.1,341.5 1238,358 1243.5,410 1247.6,488 1249.1,535 1249.6,578 1247.6,656 1244,737 841.6,737 841.9,630.4 842.9,576 844.9,572 851.8,565.5 855.4,560 856.9,554 858.5,492 858.5,448 857.3,410 853.4,368 852.8,255.4 856.3,246 867.8,210 874.4,186 878.8,173.2Z"/>
<path fill="#ff7800" d="M880.4,80 898.1,80 899.7,106 901.4,122 902,124 907.7,129.3 908.7,132.1 909.7,133.2 910.4,80 1069.3,80 1073.5,104 1079.4,130 1082.3,140 1088.7,158 1093.4,166.5 1109.9,188 1113.8,194 1139.4,246 1152.3,270 1158.3,280.1 1160.3,284.6 1165.3,299 1172.3,321.7 1179.2,335.9 1180.2,337.2 1191.2,339.2 1205.2,333.5 1220.2,325.4 1221.2,325.5 1225.2,331.5 1229.2,341.7 1232.2,351.9 1235.6,374 1239.7,412 1244.7,492 1247.5,578 1245.7,652 1241.7,737 841.7,737 842,652 842.9,581.1 844.9,577.5 853.8,568.6 858.6,562 860.5,556 860.9,550 861.1,448 859.5,410 853.8,367.8 853.2,328 853.5,268 853.8,264.1 858.9,252 863.5,236 872.1,210 878.8,187.7Z"/>
<path fill="#ff6800" d="M910.6,80 928.6,80 930.3,86 932.7,91.1 935.7,95.1 938.7,96.6 941.7,95.9 944.7,92.7 947.7,87 949.8,80 1064.7,80 1068.4,101.4 1074.6,130 1077.4,140.1 1083.7,158 1088.4,167 1102.9,188 1106.5,194 1131.8,246 1146.3,272 1157.3,289.5 1165.3,311.4 1172.3,334 1181.2,353.1 1191.2,357.2 1205.2,352.1 1211.2,347.2 1219.2,341.9 1220.2,341.9 1226.2,350.6 1227.5,354 1229.5,364 1235.1,404.8 1241.6,494 1243.6,580 1241.7,656 1237.8,737 841.9,737 842.9,602 851.4,580 853.8,576.1 859.8,569.5 862.8,564.4 864.2,560 865,552 865.2,494 864.2,446 862.1,410 855.6,360 853.8,350.3 853.5,322 853.8,275.2 858,268 861.3,260 867.4,238 878.8,200.9 879.6,178 880.8,112.7 895.8,91.5 897.2,118 898.8,128 901.8,135.5 907.7,138.9 908.7,141.7 909.7,143Z"/>
<path fill="#ff5800" d="M911,80 919.9,80 921.1,88 923.7,99.5 927.7,111.5 929.7,115.4 932.7,119.8 935.7,122.5 938.7,123.6 941.7,123 944.7,120.9 947.7,117.1 950.7,111.5 954.7,99.5 957.2,88 958.5,80 1060.9,80 1064.7,102 1070.7,130 1073.9,142 1079.4,158.8 1083.4,167 1099.7,194 1118.4,234.1 1125.3,248 1139.3,272 1157.3,299.9 1162.3,316.1 1165.3,323.1 1173.3,349.3 1175.7,356 1180.2,381.3 1181.2,384.4 1190.2,393.4 1191.2,392.8 1198.2,385.1 1205.2,379 1216.4,364 1219.2,361 1227.2,379 1229.7,396 1232.1,416 1238.1,494 1239.7,580 1237.8,656 1233.9,737 842.1,737 842.9,627.2 853.8,598.6 866.8,573 868.4,566 869,558 869,492 866,420 865,408 860.1,376 857.9,348 853.8,329.1 853.8,304.2 854.6,294 856.2,286 861.8,274.5 870.7,242 875.8,225.3 877.8,216.8 878.9,210 879.5,202 880.8,158.5 882.9,152 886.8,144.7 889.8,141.1 893.8,137.3 895.8,134.1 897.8,139.7 899.8,143.1 901.8,145.1 907.7,147 909.7,151.1Z"/>
<path fill="#ff4800" d="M911.5,80 914.1,80 915.7,92.9 918.5,108 921.7,120.1 925.2,130 928.3,136 931.7,140.3 934.7,142.6 938.7,143.8 942.7,143.1 946.7,140.3 950.7,135 953.7,128.8 957.7,116.7 960.3,106 962.8,92 964.3,80 1057.2,80 1061.4,104 1067.4,132 1073,152 1076.4,162 1079.4,168.3 1093.6,194 1113.6,238 1119.6,250 1133.5,274 1157.3,310.1 1162.3,328.4 1163.5,332 1165.3,334.9 1170.2,352 1171.2,358 1172.3,374.1 1174.4,388 1178.1,408 1180.2,416.2 1181.2,418.3 1191.2,427.8 1198.9,416 1218.2,389.9 1219.2,390.8 1227.2,408.8 1233,472 1234.8,498 1236.2,580 1234.1,656 1230.2,737 842.4,737 842.9,652.8 853.8,626.5 863.1,610 871.8,592.8 870.8,452.9 868.6,412 862.4,372 861.8,340 860.5,326 860.8,318 863.8,288 866.2,276 877.8,233.6 879.4,222 880.8,200.6 886.8,186.9 893.8,165.9 894.1,160 895.3,154 896.8,152.1 898.8,151.6 907.7,153.2 909.7,157.8 910.5,140Z"/>
<path fill="#ff3800" d="M911.7,100.7 913.7,112.7 917.6,130 920.1,138 923.5,146 927.7,153.2 931.7,157.9 935.7,160.5 937.7,161.1 940.7,161.1 943.7,160 945.7,158.7 949.7,154.6 954.7,146.4 958.6,136.9 961.6,126.5 965.1,110 967.5,94 969,80 1053.4,80 1057.6,104 1063.6,132 1070.1,156 1073.4,165.3 1087.6,194 1108.1,240 1114.4,252.5 1127.9,276 1157.3,319 1161.7,340 1163.3,344.5 1165.3,346.7 1167.4,356 1169.3,399.2 1170.6,408 1175.3,426.5 1182.2,448.6 1183.2,450.3 1193.2,459.7 1199.2,446.8 1205.2,436.3 1212.2,428.6 1218.2,420.4 1219.2,420 1222.5,430 1224.8,440 1227.2,454.3 1231,488 1233.1,570 1230.7,654 1226.7,737 842.6,737 842.9,693 853.8,655 871.8,624.1 872.2,578 871.6,422 870.8,406.2 865.7,376 864.8,362 865.6,328 868.3,288 869.7,280 872.8,267.7 877.8,254.2 880.8,244 881.8,242.3 890.8,236 893.8,232.3 894.2,178 894.8,165.2 895.8,161 896.8,159.4 898.8,158.2 907.7,158.8 908.7,162.3 909.7,163.5 910.6,150Z"/>
<path fill="#ff2800" d="M973.1,80 1049.7,80 1053.9,104 1060.8,136 1067.2,160 1072.4,173.5 1102.6,242 1115.1,266 1123.7,280 1139.1,302 1154.1,322 1157.3,327.5 1159.3,343.9 1162.5,364 1164.7,408 1166.4,420 1169.3,435.2 1172.8,448 1178.2,464.9 1184.2,480.8 1185.2,482.4 1194.2,491.5 1195.2,491 1200.4,476 1205.2,464.7 1213.2,458.7 1221.2,451.7 1222.2,453.3 1225.8,472 1228.4,492 1230,572 1227.5,648 1223.2,737 842.9,737 845,728 853.8,696.5 858.8,688.2 862.9,680 871.8,657.1 872.4,580 872.2,400 871.8,391.3 869.5,376 868.9,368 870.1,326 872.5,290 873.7,284 882.8,260.8 893.8,253.4 894.7,178 895.8,166.4 897.8,164.7 907.7,164.8 908.7,169 909.7,168.5 910.9,156 911.7,128.3 914.7,140.9 919.7,155.9 923.7,164.8 928.7,172.6 933.7,177.1 935.7,178.1 938.7,178.7 941.7,178.4 943.7,177.7 948.7,173.8 952.7,168.4 956.7,160.7 960.6,150.4 964.6,137.3 966.7,128 970.1,108Z"/>
<path fill="#ff1800" d="M976.7,80 1046,80 1049.5,100 1054.9,126 1064,162 1073.4,187.7 1093.9,236 1101.4,252 1115.4,277.3 1131,300 1148.3,322 1152,328 1153.6,332 1157.3,346.7 1158.6,358 1160.1,380 1161.1,412 1164.3,440.2 1169.3,467.6 1177.4,494 1182.2,520.3 1183.2,522.9 1186.2,527.6 1187.2,528.5 1188.2,528.6 1193.2,525.9 1198,522 1202.2,516.7 1204.4,512 1205.5,508 1207.3,496 1208.8,494 1213.7,490 1223.2,483.9 1224.2,483.8 1225.2,488 1226,498 1227.4,576 1224.6,654 1220.6,737 858.4,737 866.8,726.8 871.8,719.6 872.7,582 872.5,416 872.8,406 874.4,386 873.8,364 876.2,334 881.8,286 883.8,279.5 887.8,274.9 893.8,269.6 894.8,197.6 895.8,175.2 907.7,174.2 908.7,177.3 909.7,175.4 911.2,162 911.7,149.8 915.7,164.2 919.7,175.6 923.7,183.9 928.3,190 931.7,192.6 934.6,194 937.7,194.7 940.7,194.7 943.7,194 946.7,192.6 951.7,188.3 955.7,182.1 960,172 964.6,157.3 968.5,142 970.9,130 973.8,110Z"/>
<path fill="#ff0800" d="M980,80 1042.4,80 1045.8,100 1051.3,126 1060.8,164 1070,192 1088.4,236.9 1095.4,252 1111.4,280.7 1126.3,303.4 1143.2,324 1145.6,328 1147.3,332 1155.3,358 1157.3,367.9 1158.1,382 1158.7,412 1161.3,450.1 1164.3,473 1167.9,494 1170.3,512.9 1175.5,542 1178.2,563.9 1179.2,566 1180.2,566.6 1195.1,570 1200.9,572 1205.1,574 1207.9,576 1209.7,578 1211.2,582 1211.4,588 1209,648 1204.8,737 872.3,737 873,580 873,414 873.8,404.3 877.8,385.4 881.7,370 883.8,355.6 890,326 893.8,296.2 895.8,193.5 907.7,190.3 909.7,193 910.7,191.1 911.2,188 911.7,173 915.7,186 919.1,194 923.7,200.8 928.7,204.7 932.7,206.4 936.7,207.2 940.7,207.3 944.7,206.7 950.9,204 953.7,201.8 956.7,198.3 960.6,191.2 963.6,182.8 967.6,167.3 971.6,148.5 974.6,132 977,114Z"/>
<path fill="#f70000" d="M983.1,80 1038.7,80 1042.9,104 1049.8,136 1062.2,184 1066.9,198 1083.8,240 1088.3,250 1105.4,281.4 1124.3,313.4 1135.4,330 1145.3,350.8 1148.5,360 1152.9,378 1154.1,386 1157.4,428 1157.5,440 1156.5,456 1161.7,492 1171.2,574 1171.1,584 1166.7,658 1163.2,737 873.1,737 873.7,414 874.8,408.4 876.8,403.1 878.8,400.2 883.8,395.3 886.8,391.5 889.8,386.3 891.8,380.9 893.4,356 894.3,334 895.8,227 907.7,213.4 908.7,219.1 909.7,221.3 910.7,221.3 911.7,219.9 912.7,216.9 914.7,205.2 918.7,211.2 922.7,214.4 928.7,216.7 935.7,217.7 944.7,217.5 952.7,215.8 957.7,213 959.6,211.2 962,208 965.5,200 968.3,190 975.6,149.2 978,134 980.5,112Z"/>
<path fill="#e70000" d="M918.7,234.2 919.7,234.1 923.7,237.4 928.5,242 931.9,246 935.3,252 943.4,270 947.7,277 952.7,282.3 966.3,294 971.7,300 973.5,304 973.9,308 973.4,312 971.3,320 970.9,324 971.5,326 972.9,328 975.3,330 980.6,332.7 983.6,332.8 985.6,331.3 992.8,320 997.6,314.9 999.9,306 1002.2,300 1012.6,277.9 1015.5,272.8 1019.5,269.4 1024.5,269.2 1025.7,270 1026.6,272 1027.2,278 1028.2,282 1036,300 1038.1,306 1041.8,324 1043.2,328 1046.6,334 1059.5,352.6 1061.8,358 1070.8,390 1074,412 1075.4,418 1077.4,423.3 1080.4,427.5 1081.4,427.7 1087.4,423.9 1095.4,420.9 1101.4,404.2 1109.4,387.3 1110.4,385.9 1112.4,384.3 1114.4,385.9 1135.4,436 1137.1,444 1138.2,458 1139.9,520 1138.6,554 1138.7,737 889.6,737 889.7,574 894.4,484 896.5,380 896.9,326 898.5,314 900.8,305.9 902.9,284 902.8,267 904.1,264 907.7,260.1 909.7,264.7 910.7,265.5 911.7,265 912.7,263.1 916.6,246Z"/>
<path fill="#d70000" d="M924.7,270.1 926.7,271.9 940.9,292 944.3,298 945.4,302 945.4,304 944.3,308 937.8,320 936.1,324 935.5,328 935.8,330 936.7,332 938.7,334.4 948.7,341.1 951.7,344 954.7,347.9 964.6,367.4 974.2,384 979.6,396.8 980.6,397.3 983.5,386 985,382 989.6,375.4 993.6,368 1010.6,329.4 1014.7,326 1020.5,323.1 1023.5,324.3 1028.1,328 1029.5,329.7 1041.5,355 1051.8,384 1058.5,407 1065.3,438 1068.5,472 1070.4,485.9 1071.4,489.9 1075.4,489.9 1080.4,489.3 1087.4,487.6 1093.4,485.3 1098.4,484.9 1101.6,456 1102.4,440.4 1103.4,436.3 1105.4,434.3 1112.4,430.4 1115.4,429.5 1117.4,429.4 1119.4,430.3 1126.3,435.5 1128.3,439.4 1130.3,445.7 1132.3,454.2 1134.2,466 1134,494 1135.4,520 1135.1,528 1131.3,557.3 1130.3,570 1130.3,737 893.3,737 893.4,578 895.9,548 899.8,476.4 900.5,448 900.4,408 902.6,326 904.7,305.9 907.7,292.6 910.7,289.2 913.7,284.3 915.7,278.2 920.6,274 923.7,270.6Z"/>
<path fill="#c70000" d="M928.7,303.1 929.7,303.1 930.1,306 926.1,326 924.2,348 924.8,356 926.7,360.8 937.7,378.7 939,382 940.2,388 941.4,406 942.1,410 943.4,414 950.7,424.7 960.6,436.7 973.6,445.1 981.6,449 982.6,446.3 982.8,434 984.6,411.6 987.6,405.2 991.6,398.2 994.6,394.2 996.6,392.7 1002.6,390.3 1006.6,388 1015.5,380.5 1016.5,380.2 1020.5,383.2 1023.5,386.4 1029.5,396.2 1034.5,406.8 1046.9,438 1048.6,448 1053.2,490 1054.5,518 1054.3,526 1051.7,558 1051.2,570 1051.1,737 898.4,737 898.5,580 899,572 901.4,554 904.1,494 904.2,448 905.5,408 904.7,366 906.2,336 906.7,332.7 907.7,331.6 909.7,334.3 910.7,334.5 911.7,333.5 915.7,319.5 919.9,316 926.1,306ZM1108.4,479.2 1128.3,479.2 1129.5,480 1130.2,484 1130.4,496 1132.6,522 1132,530 1127.9,560 1127.2,570 1127.1,737 1090.9,737 1093.2,712 1095.1,678 1097.6,620 1097.9,564 1100.4,526 1101.5,502 1102.4,491.5 1104.4,484.6 1106.4,480Z"/>
<path fill="#b70000" d="M915.7,367.5 918,372 919.7,380.2 919.6,388 917.5,406 917.8,410 918.9,414 933.7,438.7 957.7,467.6 964.6,484 967.6,489.2 970.6,492.3 974.6,493.2 985.6,493.3 987.6,454.8 988.8,444 990.6,437.9 1027.5,437.9 1028.4,446 1029.3,468 1031.7,490 1032.3,500 1032.6,616 1029.6,676 1023.8,737 903.6,737 903.7,580 904.3,574 906.8,560 907.4,552 908.6,494 908.4,448 910.2,394 911.7,375.1 912.7,371 913.7,371.1Z"/>
<path fill="#a70000" d="M915.7,453 921.7,453.7 925.7,456.3 931.7,463.1 933.7,465.9 934.7,468.6 935.9,476 937.4,494 937.1,530 937.6,556 938.7,566 958.6,612.4 960,618 960.3,626 960.8,628 961.6,628.9 966.6,629.1 972.6,627.6 979.6,623.7 980.6,622.5 981.6,622.4 982.6,620.8 983.6,620.8 984.6,619.1 985.6,618.9 986.2,562 988.6,504.6 989.6,501.8 991.6,504.3 994.6,510.9 997.1,518 997.9,530 997,564 991.9,612 989.8,626 979.4,670 978.1,678 978.2,686 981.5,737 911.7,737 911.3,578 911.7,524 912.6,494 914.8,470Z"/>
<path fill="#970000" d="M936.7,658.4 938,660 937,664 932.7,670.3 926.6,678 926,688 926,737 916.4,737 916.4,686 917.1,676 917.7,673.8 923.7,667 929.7,661.5 932.7,659.4 934.7,658.5Z"/>
</g>
<g fill="none">
<line x1="113.7" x2="113.7" y1="79" y2="737.8" stroke="#111" stroke-width="1.5"/>
<line x1="113" x2="663.6" y1="79.6" y2="79.6" stroke="#222" stroke-width="1.2"/>
<line x1="662.5" x2="662.5" y1="79" y2="737.8" stroke="#00002a" stroke-width="2.5"/>
<line x1="113" x2="663.6" y1="736.6" y2="736.6" stroke="#050505" stroke-width="2.4"/>
<line x1="766.9" x2="766.9" y1="80.2" y2="737.8" stroke="#1a1a1a" stroke-width="2"/>
<line x1="766" x2="1315.9" y1="80.8" y2="80.8" stroke="#333" stroke-width="1.2"/>
<line x1="1314.7" x2="1314.7" y1="80.2" y2="738" stroke="#000080" stroke-width="2.9"/>
<line x1="766" x2="1316.1" y1="736.3" y2="736.3" stroke="#000080" stroke-width="3.3"/>
</g>
<line x1="223.5" x2="223.5" y1="737" y2="727.5" stroke="#000" stroke-width="1.2"/>
<line x1="333.5" x2="333.5" y1="737" y2="727.5" stroke="#000" stroke-width="1.2"/>
<line x1="442.5" x2="442.5" y1="737" y2="727.5" stroke="#000" stroke-width="1.2"/>
<line x1="552.5" x2="552.5" y1="737" y2="727.5" stroke="#000" stroke-width="1.2"/>
<line x1="113" x2="123" y1="590.5" y2="590.5" stroke="#000" stroke-width="1.7"/>
<line x1="113" x2="123" y1="444.5" y2="444.5" stroke="#000" stroke-width="1.7"/>
<line x1="113" x2="123" y1="298.5" y2="298.5" stroke="#000" stroke-width="1.7"/>
<line x1="113" x2="123" y1="152.5" y2="152.5" stroke="#000" stroke-width="1.7"/>
<text transform="translate(113.7,771.0) scale(1,1.05)" text-anchor="middle" font-size="31" font-weight="bold" font-family="'Liberation Serif', serif">500</text>
<text transform="translate(223.5,771.0) scale(1,1.05)" text-anchor="middle" font-size="31" font-weight="bold" font-family="'Liberation Serif', serif">1000</text>
<text transform="translate(333.3,771.0) scale(1,1.05)" text-anchor="middle" font-size="31" font-weight="bold" font-family="'Liberation Serif', serif">1500</text>
<text transform="translate(443.1,771.0) scale(1,1.05)" text-anchor="middle" font-size="31" font-weight="bold" font-family="'Liberation Serif', serif">2000</text>
<text transform="translate(552.9,771.0) scale(1,1.05)" text-anchor="middle" font-size="31" font-weight="bold" font-family="'Liberation Serif', serif">2500</text>
<text transform="translate(662.7,771.0) scale(1,1.05)" text-anchor="middle" font-size="31" font-weight="bold" font-family="'Liberation Serif', serif">3000</text>
<text transform="translate(102.8,746.1) scale(1,1.05)" text-anchor="end" font-size="31" font-weight="bold" font-family="'Liberation Serif', serif">0</text>
<text transform="translate(102.8,600.1) scale(1,1.05)" text-anchor="end" font-size="31" font-weight="bold" font-family="'Liberation Serif', serif">10</text>
<text transform="translate(102.8,454.1) scale(1,1.05)" text-anchor="end" font-size="31" font-weight="bold" font-family="'Liberation Serif', serif">20</text>
<text transform="translate(102.8,308.1) scale(1,1.05)" text-anchor="end" font-size="31" font-weight="bold" font-family="'Liberation Serif', serif">30</text>
<text transform="translate(102.8,162.1) scale(1,1.05)" text-anchor="end" font-size="31" font-weight="bold" font-family="'Liberation Serif', serif">40</text>
<text transform="translate(389.0,801.0) scale(1,1.05)" text-anchor="middle" font-size="29.6" font-weight="bold" font-family="'Liberation Serif', serif">Wavelength (nm)</text>
<text transform="translate(58.2,410.0) rotate(-90) scale(1.05,1)" text-anchor="middle" font-size="35.6" font-weight="bold" font-family="'Liberation Serif', serif">Incident angle <tspan font-weight="normal">θ</tspan></text>
<line x1="875.5" x2="875.5" y1="737" y2="727.5" stroke="#000" stroke-width="1.2"/>
<line x1="985.5" x2="985.5" y1="737" y2="727.5" stroke="#000" stroke-width="1.2"/>
<line x1="1095.5" x2="1095.5" y1="737" y2="727.5" stroke="#000" stroke-width="1.2"/>
<line x1="1204.5" x2="1204.5" y1="737" y2="727.5" stroke="#000" stroke-width="1.2"/>
<line x1="766" x2="776" y1="590.5" y2="590.5" stroke="#000" stroke-width="1.7"/>
<line x1="766" x2="776" y1="444.5" y2="444.5" stroke="#000" stroke-width="1.7"/>
<line x1="766" x2="776" y1="299.5" y2="299.5" stroke="#000" stroke-width="1.7"/>
<line x1="766" x2="776" y1="153.5" y2="153.5" stroke="#000" stroke-width="1.7"/>
<text transform="translate(767.2,771.0) scale(1,1.05)" text-anchor="middle" font-size="31" font-weight="bold" font-family="'Liberation Serif', serif">500</text>
<text transform="translate(876.4,771.0) scale(1,1.05)" text-anchor="middle" font-size="31" font-weight="bold" font-family="'Liberation Serif', serif">1000</text>
<text transform="translate(985.6,771.0) scale(1,1.05)" text-anchor="middle" font-size="31" font-weight="bold" font-family="'Liberation Serif', serif">1500</text>
<text transform="translate(1094.8,771.0) scale(1,1.05)" text-anchor="middle" font-size="31" font-weight="bold" font-family="'Liberation Serif', serif">2000</text>
<text transform="translate(1204.0,771.0) scale(1,1.05)" text-anchor="middle" font-size="31" font-weight="bold" font-family="'Liberation Serif', serif">2500</text>
<text transform="translate(1313.2,771.0) scale(1,1.05)" text-anchor="middle" font-size="31" font-weight="bold" font-family="'Liberation Serif', serif">3000</text>
<text transform="translate(756.8,746.8) scale(1,1.05)" text-anchor="end" font-size="31" font-weight="bold" font-family="'Liberation Serif', serif">0</text>
<text transform="translate(756.8,601.0) scale(1,1.05)" text-anchor="end" font-size="31" font-weight="bold" font-family="'Liberation Serif', serif">10</text>
<text transform="translate(756.8,455.2) scale(1,1.05)" text-anchor="end" font-size="31" font-weight="bold" font-family="'Liberation Serif', serif">20</text>
<text transform="translate(756.8,309.4) scale(1,1.05)" text-anchor="end" font-size="31" font-weight="bold" font-family="'Liberation Serif', serif">30</text>
<text transform="translate(756.8,163.6) scale(1,1.05)" text-anchor="end" font-size="31" font-weight="bold" font-family="'Liberation Serif', serif">40</text>
<text transform="translate(1040.8,805.8) scale(1,1.05)" text-anchor="middle" font-size="29.8" font-weight="bold" font-family="'Liberation Serif', serif">Wavelength (nm)</text>
<text transform="translate(716.7,410.5) rotate(-90) scale(1.05,1)" text-anchor="middle" font-size="35.6" font-weight="bold" font-family="'Liberation Serif', serif">Incident angle <tspan font-weight="normal">θ</tspan></text>
<rect x="1341" y="80.0" width="22" height="653.0" fill="#970000"/>
<rect x="1341" y="97.4" width="22" height="635.6" fill="#a70000"/>
<rect x="1341" y="107.6" width="22" height="625.4" fill="#b70000"/>
<rect x="1341" y="117.8" width="22" height="615.2" fill="#c70000"/>
<rect x="1341" y="128.0" width="22" height="605.0" fill="#d70000"/>
<rect x="1341" y="138.2" width="22" height="594.8" fill="#e70000"/>
<rect x="1341" y="148.4" width="22" height="584.6" fill="#f70000"/>
<rect x="1341" y="158.6" width="22" height="574.4" fill="#ff0800"/>
<rect x="1341" y="168.8" width="22" height="564.2" fill="#ff1800"/>
<rect x="1341" y="179.0" width="22" height="554.0" fill="#ff2800"/>
<rect x="1341" y="189.2" width="22" height="543.8" fill="#ff3800"/>
<rect x="1341" y="199.4" width="22" height="533.6" fill="#ff4800"/>
<rect x="1341" y="209.6" width="22" height="523.4" fill="#ff5800"/>
<rect x="1341" y="219.8" width="22" height="513.2" fill="#ff6800"/>
<rect x="1341" y="230.0" width="22" height="503.0" fill="#ff7800"/>
<rect x="1341" y="240.2" width="22" height="492.8" fill="#ff8700"/>
<rect x="1341" y="250.4" width="22" height="482.6" fill="#ff9700"/>
<rect x="1341" y="260.6" width="22" height="472.4" fill="#ffa700"/>
<rect x="1341" y="270.8" width="22" height="462.2" fill="#ffb700"/>
<rect x="1341" y="281.0" width="22" height="452.0" fill="#ffc700"/>
<rect x="1341" y="291.2" width="22" height="441.8" fill="#ffd700"/>
<rect x="1341" y="301.4" width="22" height="431.6" fill="#ffe700"/>
<rect x="1341" y="311.6" width="22" height="421.4" fill="#fff700"/>
<rect x="1341" y="321.8" width="22" height="411.2" fill="#f4ff00"/>
<rect x="1341" y="332.0" width="22" height="401.0" fill="#deff00"/>
<rect x="1341" y="342.2" width="22" height="390.8" fill="#c7ff00"/>
<rect x="1341" y="352.4" width="22" height="380.6" fill="#b1ff06"/>
<rect x="1341" y="362.6" width="22" height="370.4" fill="#9aff1b"/>
<rect x="1341" y="372.8" width="22" height="360.2" fill="#7cff38"/>
<rect x="1341" y="383.0" width="22" height="350.0" fill="#55ff52"/>
<rect x="1341" y="393.2" width="22" height="339.8" fill="#1cff65"/>
<rect x="1341" y="403.4" width="22" height="329.6" fill="#00ff74"/>
<rect x="1341" y="413.6" width="22" height="319.4" fill="#00ff87"/>
<rect x="1341" y="423.8" width="22" height="309.2" fill="#00ff99"/>
<rect x="1341" y="434.0" width="22" height="299.0" fill="#00ffac"/>
<rect x="1341" y="444.2" width="22" height="288.8" fill="#00ffbe"/>
<rect x="1341" y="454.4" width="22" height="278.6" fill="#00ffd1"/>
<rect x="1341" y="464.6" width="22" height="268.4" fill="#00ffe3"/>
<rect x="1341" y="474.8" width="22" height="258.2" fill="#00fff6"/>
<rect x="1341" y="485.0" width="22" height="248.0" fill="#00f7ff"/>
<rect x="1341" y="495.2" width="22" height="237.8" fill="#00e7ff"/>
<rect x="1341" y="505.4" width="22" height="227.6" fill="#00d7ff"/>
<rect x="1341" y="515.6" width="22" height="217.4" fill="#00c7ff"/>
<rect x="1341" y="525.8" width="22" height="207.2" fill="#00b7ff"/>
<rect x="1341" y="536.0" width="22" height="197.0" fill="#00a7ff"/>
<rect x="1341" y="546.2" width="22" height="186.8" fill="#0097ff"/>
<rect x="1341" y="556.4" width="22" height="176.6" fill="#0087ff"/>
<rect x="1341" y="566.6" width="22" height="166.4" fill="#0078ff"/>
<rect x="1341" y="576.8" width="22" height="156.2" fill="#0068ff"/>
<rect x="1341" y="587.0" width="22" height="146.0" fill="#0058ff"/>
<rect x="1341" y="597.2" width="22" height="135.8" fill="#0048ff"/>
<rect x="1341" y="607.4" width="22" height="125.6" fill="#0038ff"/>
<rect x="1341" y="617.6" width="22" height="115.4" fill="#0028ff"/>
<rect x="1341" y="627.8" width="22" height="105.2" fill="#0018ff"/>
<rect x="1341" y="638.0" width="22" height="95.0" fill="#0008ff"/>
<rect x="1341" y="648.2" width="22" height="84.8" fill="#0000f8"/>
<rect x="1341" y="658.4" width="22" height="74.6" fill="#0000e9"/>
<rect x="1341" y="668.6" width="22" height="64.4" fill="#0000da"/>
<rect x="1341" y="678.8" width="22" height="54.2" fill="#0000cb"/>
<rect x="1341" y="689.0" width="22" height="44.0" fill="#0000bc"/>
<rect x="1341" y="699.2" width="22" height="33.8" fill="#0000ad"/>
<rect x="1341" y="709.4" width="22" height="23.6" fill="#00009e"/>
<rect x="1341" y="719.6" width="22" height="13.4" fill="#00008f"/>
<rect x="1341.5" y="80.5" width="21" height="652" fill="none" stroke="#111" stroke-width="1"/>
<line x1="1341" x2="1367.7" y1="82" y2="82" stroke="#111" stroke-width="2.6"/>
<line x1="1341" x2="1367.7" y1="731.6" y2="731.6" stroke="#111" stroke-width="1.8"/>
<text transform="translate(1380.2,96.7) scale(0.84,0.95)" font-size="33.5" font-weight="bold" font-family="'Liberation Serif', serif">1</text>
<text transform="translate(1378.6,748.3) scale(1.05,1.02)" font-size="33.5" font-weight="bold" font-family="'Liberation Serif', serif">0</text>
</svg>
</body></html>
